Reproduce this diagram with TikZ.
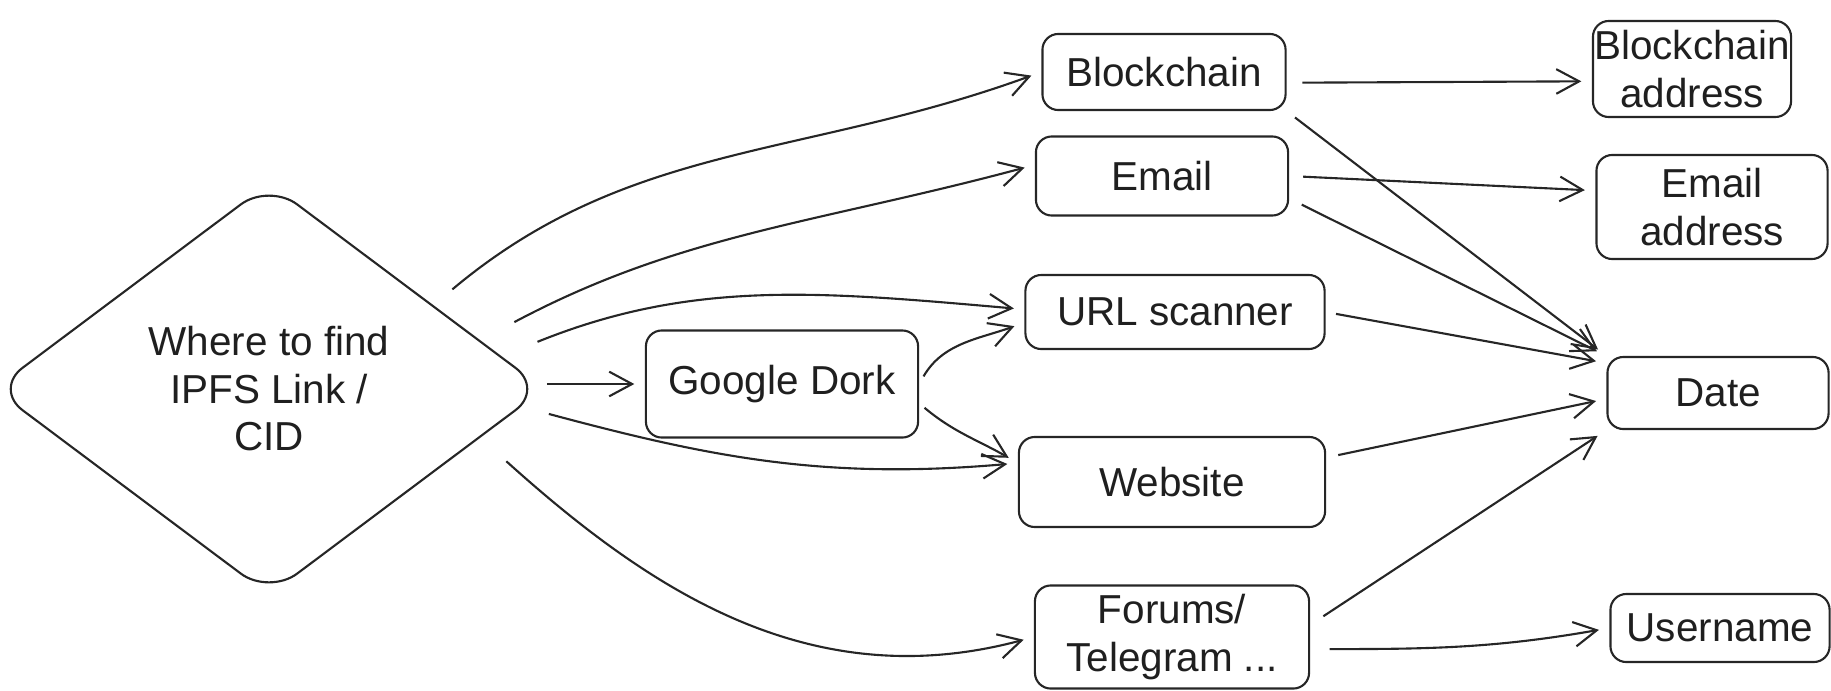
\documentclass[tikz,border=0pt]{standalone}
\usepackage{fontspec}
\setmainfont{Liberation Sans}
\usetikzlibrary{shapes.geometric,arrows.meta,calc}

\begin{document}
\begin{tikzpicture}[%
  x=0.01cm,y=0.01cm,
  every node/.style={text=black!88,font=\fontsize{11.5}{13.5}\selectfont,align=center},
  where/.style={diamond,draw=black!85,line width=0.6pt,rounded corners=10pt,
    inner sep=0pt,minimum width=5.5cm,minimum height=4.12cm},
  box/.style={rectangle,draw=black!85,line width=0.6pt,rounded corners=4.5pt,inner sep=0pt},
  link/.style={draw=black!85,line width=0.6pt,
    -{Straight Barb[length=6.5pt,width=7pt]},shorten >=3pt}]
    \useasboundingbox (0,0) rectangle (1831,690);
    % Start
    \node[where] (cid) at (269,301) {Where to find\\IPFS Link /\\CID};
    % Places to look
    \node[box,minimum width=2.43cm,minimum height=0.76cm] (chain) at (1164,618) {Blockchain};
    \node[box,minimum width=2.52cm,minimum height=0.79cm] (email) at (1162,514) {Email};
    \node[box,minimum width=2.99cm,minimum height=0.74cm] (url) at (1175,378) {URL scanner};
    \node[box,minimum width=2.72cm,minimum height=1.07cm] (dork) at (782,306) {Google Dork};
    \node[box,minimum width=3.06cm,minimum height=0.90cm] (web) at (1172,208) {Website};
    \node[box,minimum width=2.74cm,minimum height=1.03cm] (forum) at (1172,53) {Forums/\\Telegram ...};
    % What they give
    \node[box,minimum width=1.98cm,minimum height=0.96cm] (chainaddr) at (1692,621) {Blockchain\\address};
    \node[box,minimum width=2.31cm,minimum height=1.04cm] (mailaddr) at (1712,483) {Email\\address};
    \node[box,minimum width=2.21cm,minimum height=0.72cm] (date) at (1718,297) {Date};
    \node[box,minimum width=2.19cm,minimum height=0.68cm] (user) at (1720,62) {Username};

    % from the start
    \draw[link,shorten <=7pt] (cid.27) to[out=40,in=200] (chain.west);
    \draw[link,shorten <=11pt] (cid.13) to[out=28,in=195] (email.175);
    \draw[link,shorten <=11pt] (cid.8) to[out=22,in=175] (url.179);
    \draw[link,shorten <=0.5pt] (dork.west -| cid.east) -- (dork.west);
    \draw[link,shorten <=8pt] (cid.-4) to[out=-15,in=185] (web.173);
    \draw[link,shorten <=10pt] (cid.-13) to[out=-42,in=195] (forum.west);
    % from Google Dork
    \draw[link,shorten <=2.5pt] (dork.east) to[out=60,in=200] (url.184);
    \draw[link,shorten <=2pt] (dork.-8) to[out=-40,in=150] (web.173);
    % to the results
    \draw[link,shorten <=4.5pt] (chain.-5) -- (chainaddr.187);
    \draw[link,shorten <=3pt] (chain.south east) -- (date.north west);
    \draw[link,shorten <=4pt] (email.east) -- (mailaddr.172);
    \draw[link,shorten <=4pt] (email.-10) -- (date.north west);
    \draw[link,shorten <=3pt] (url.east) -- (date.165);
    \draw[link,shorten <=3.5pt] (web.9) -- (date.183);
    \draw[link,shorten <=4.5pt] (forum.5) -- (date.south west);
    \draw[link,shorten <=5.5pt] (forum.-5) to[out=0,in=190] (user.west);
\end{tikzpicture}
\end{document}
